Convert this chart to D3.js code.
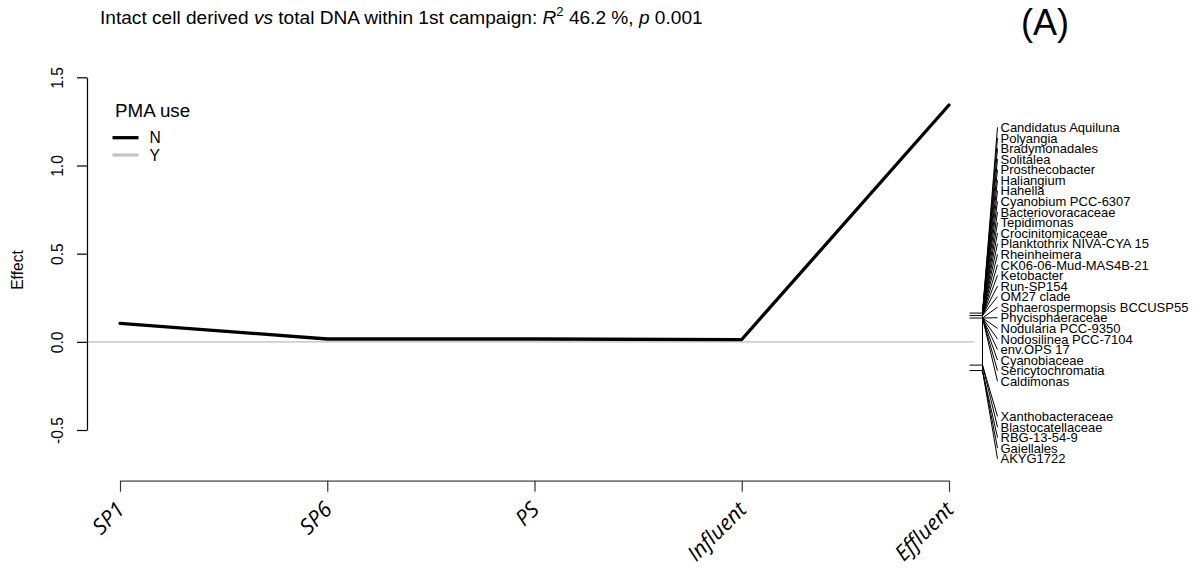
<!DOCTYPE html>
<html>
<head>
<meta charset="utf-8">
<script src="https://cdn.jsdelivr.net/npm/d3@7"></script>
<style>
  html, body { margin: 0; padding: 0; background: #fff; }
  svg { display: block; }
  text { font-family: "Liberation Sans", Arial, Helvetica, sans-serif; fill: #000; }
</style>
</head>
<body>
<svg id="chart" width="1203" height="572"></svg>
<script>
// Principal response curve: sampling stations (x) and the canonical effect of PMA use.
const stations = ["SP1", "SP6", "PS", "Influent", "Effluent"];
const effectN = [0.105, 0.016, 0.016, 0.013, 1.343];   // PMA use = N (Y is the reference, 0)
const yTicks = [-0.5, 0.0, 0.5, 1.0, 1.5];

// Taxon weights shown on the right, ordered from highest to lowest
const taxa = [
  "Candidatus Aquiluna", "Polyangia", "Bradymonadales", "Solitalea", "Prosthecobacter",
  "Haliangium", "Hahella", "Cyanobium PCC-6307", "Bacteriovoracaceae", "Tepidimonas",
  "Crocinitomicaceae", "Planktothrix NIVA-CYA 15", "Rheinheimera", "CK06-06-Mud-MAS4B-21",
  "Ketobacter", "Run-SP154", "OM27 clade", "Sphaerospermopsis BCCUSP55", "Phycisphaeraceae",
  "Nodularia PCC-9350", "Nodosilinea PCC-7104", "env.OPS 17", "Cyanobiaceae",
  "Sericytochromatia", "Caldimonas",
  "Xanthobacteraceae", "Blastocatellaceae", "RBG-13-54-9", "Gaiellales", "AKYG1722"
];
const taxonScores = [
  0.163, 0.163, 0.163, 0.163, 0.163, 0.163, 0.163, 0.163,
  0.149, 0.149, 0.149, 0.149, 0.149, 0.149, 0.149, 0.149, 0.149,
  0.135, 0.135, 0.135, 0.135, 0.135, 0.135, 0.135, 0.135,
  -0.132, -0.132, -0.163, -0.163, -0.163
];

const legendTitle = "PMA use";
const legendKeys = ["N", "Y"];
const legendColors = ["#000000", "#c4c4c4"];

const svg = d3.select("#chart");
svg.append("rect").attr("width", 1203).attr("height", 572).attr("fill", "#fff");

const x = d3.scalePoint().domain(stations).range([120, 949]);
const y = d3.scaleLinear().domain([-0.5, 1.5]).range([430, 77.3]);
const axisX = 87;        // left edge of the plotting region
const rightEdge = 982.5; // right edge of the plotting region

// zero reference line
svg.append("line")
  .attr("x1", axisX).attr("x2", 974)
  .attr("y1", y(0)).attr("y2", y(0))
  .attr("stroke", "#cfcfcf").attr("stroke-width", 1.6);

// y axis
const gy = svg.append("g")
  .attr("transform", `translate(${axisX},0)`)
  .call(d3.axisLeft(y).tickValues(yTicks).tickSize(10).tickSizeOuter(0)
    .tickFormat(d => d.toFixed(1)));
gy.select(".domain").attr("stroke", "#000").attr("stroke-width", 1.2);
gy.selectAll(".tick line").attr("stroke", "#000").attr("stroke-width", 1.2);
gy.selectAll(".tick text")
  .attr("transform", "rotate(-90)")
  .attr("x", 0).attr("y", -23.7).attr("dy", null)
  .attr("text-anchor", "middle")
  .style("font-family", "'Liberation Sans', Arial, sans-serif")
  .style("font-size", "15.6px").attr("fill", "#000");

svg.append("text")
  .attr("transform", "translate(23,270) rotate(-90)")
  .attr("text-anchor", "middle")
  .style("font-size", "15.6px")
  .text("Effect");

// x axis
const gx = svg.append("g")
  .attr("transform", `translate(0,${480.7})`)
  .call(d3.axisBottom(x).tickSize(11).tickSizeOuter(0).tickFormat(""));
gx.select(".domain").attr("stroke", "#7a7a7a").attr("stroke-width", 1.8);
gx.selectAll(".tick line").attr("stroke", "#333").attr("stroke-width", 1.2);

svg.append("g").selectAll("text")
  .data(stations)
  .join("text")
  .attr("transform", d => `translate(${x(d) + 6},${511}) rotate(-45)`)
  .attr("text-anchor", "end")
  .style("font-family", "'Open Sans', sans-serif")
  .style("font-style", "italic")
  .style("font-size", "21.5px")
  .text(d => d);

// effect curve
const line = d3.line().x(d => x(d.s)).y(d => y(d.v));
svg.append("path")
  .datum(stations.map((s, i) => ({ s, v: effectN[i] })))
  .attr("d", line)
  .attr("fill", "none")
  .attr("stroke", legendColors[0])
  .attr("stroke-width", 3.3)
  .attr("stroke-linejoin", "round")
  .attr("stroke-linecap", "round");

// taxon weights: rug ticks, stacking spine, connectors and labels
const labelTop = 127.3, labelStep = 10.58, groupGap = 24.6;
const labelY = taxonScores.map((s, i) => labelTop + i * labelStep + (s < 0 ? groupGap : 0));
const uniqueScores = Array.from(new Set(taxonScores));
const gs = svg.append("g").attr("stroke", "#000").attr("stroke-width", 1);
gs.selectAll("line.rug").data(uniqueScores).join("line")
  .attr("class", "rug")
  .attr("x1", 969.5).attr("x2", rightEdge)
  .attr("y1", d => y(d)).attr("y2", d => y(d));
gs.append("line")
  .attr("x1", rightEdge).attr("x2", rightEdge)
  .attr("y1", y(d3.max(taxonScores))).attr("y2", y(d3.min(taxonScores)));
gs.selectAll("line.link").data(taxonScores).join("line")
  .attr("class", "link")
  .attr("x1", rightEdge).attr("y1", d => y(d))
  .attr("x2", 997.5).attr("y2", (d, i) => labelY[i]);
svg.append("g").selectAll("text").data(taxa).join("text")
  .attr("x", 1000.5)
  .attr("y", (d, i) => labelY[i] + 4.7)
  .style("font-size", "13px")
  .text(d => d);

// legend
svg.append("text").attr("x", 115).attr("y", 117)
  .style("font-size", "18.8px").text(legendTitle);
const lg = svg.append("g").selectAll("g").data(legendKeys).join("g")
  .attr("transform", (d, i) => `translate(0,${137.7 + i * 17.3})`);
lg.append("line").attr("x1", 112.5).attr("x2", 138.5)
  .attr("stroke", (d, i) => legendColors[i]).attr("stroke-width", 3.3);
lg.append("text").attr("x", 149.5).attr("y", 5.6)
  .style("font-size", "15.6px").text(d => d);

// title
const title = svg.append("text").attr("x", 100).attr("y", 24).style("font-size", "19.1px");
title.append("tspan").text("Intact cell derived ");
title.append("tspan").style("font-style", "italic").text("vs");
title.append("tspan").text(" total DNA within 1st campaign: ");
title.append("tspan").style("font-style", "italic").text("R");
title.append("tspan").attr("dy", -8).style("font-size", "13px").text("2");
title.append("tspan").attr("dy", 8).text(" 46.2 %, ");
title.append("tspan").style("font-style", "italic").text("p");
title.append("tspan").text(" 0.001");

// panel tag
svg.append("text").attr("x", 1021).attr("y", 35)
  .style("font-size", "36px").text("(A)");
</script>
</body>
</html>
